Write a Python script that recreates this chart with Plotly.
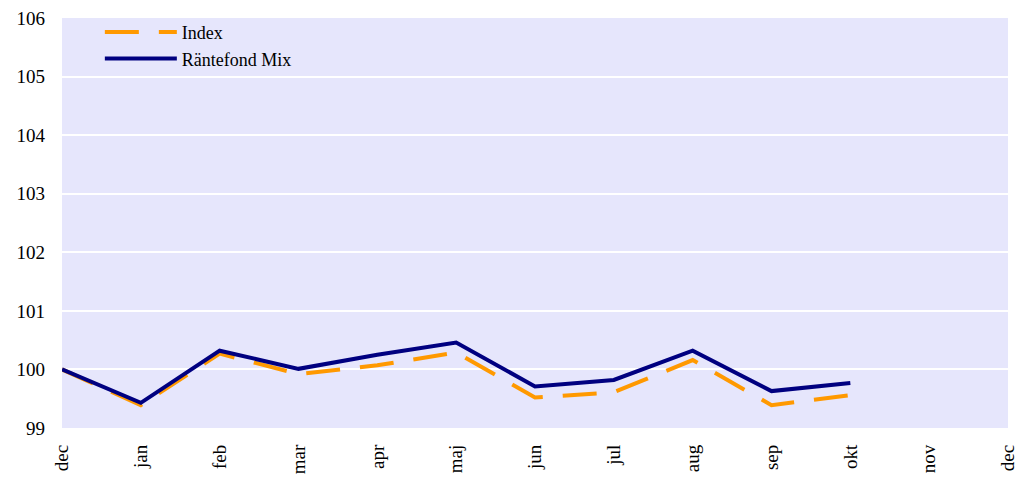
import plotly.graph_objects as go

# Month labels along the x axis (December to December)
months = ["dec", "jan", "feb", "mar", "apr", "maj", "jun", "jul", "aug", "sep", "okt", "nov", "dec"]
positions = list(range(len(months)))

# Indexed values (start = 100)
index_values = [100.0, 99.39, 100.27, 99.92, 100.07, 100.29, 99.52, 99.61, 100.16, 99.39, 99.56]
fund_values = [100.0, 99.43, 100.32, 100.01, 100.25, 100.46, 99.71, 99.82, 100.32, 99.63, 99.77]

fig = go.Figure()
fig.add_trace(go.Scatter(
    x=positions[:len(index_values)], y=index_values, name="Index", mode="lines",
    line=dict(color="#FF9900", width=4, dash="34px,20px"),
))
fig.add_trace(go.Scatter(
    x=positions[:len(fund_values)], y=fund_values, name="Räntefond Mix", mode="lines",
    line=dict(color="#000080", width=4),
))

font = dict(family="Liberation Serif", size=19, color="#000000")

fig.update_layout(
    width=1017, height=478,
    margin=dict(l=62, r=9, t=18, b=50),
    paper_bgcolor="white",
    plot_bgcolor="#E6E6FC",
    font=font,
    showlegend=True,
    legend=dict(
        x=0.04, y=1.01, xanchor="left", yanchor="top",
        bgcolor="rgba(0,0,0,0)", font=dict(family="Liberation Serif", size=18),
        tracegroupgap=0, itemwidth=72,
    ),
    xaxis=dict(
        range=[0, 12], tickmode="array", tickvals=positions, ticktext=months,
        tickangle=-90, showgrid=False, zeroline=False, showline=False,
        ticks="", ticklabelstandoff=12, ticklabeloverflow="allow",
        tickfont=dict(size=19), automargin=False,
    ),
    yaxis=dict(
        range=[99, 106], dtick=1, showgrid=True, gridcolor="white", gridwidth=2,
        zeroline=False, showline=False, ticks="", ticklabelstandoff=16,
        tickfont=dict(size=19), automargin=False,
    ),
)

fig.write_html("out.html")
